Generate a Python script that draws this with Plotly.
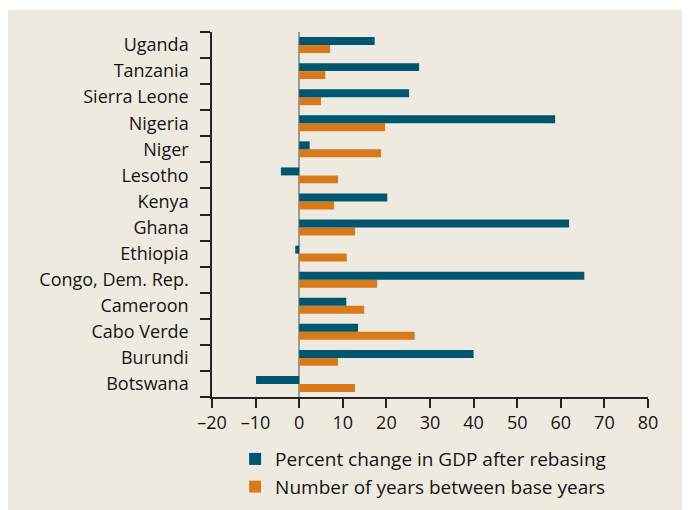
import plotly.graph_objects as go

countries = ["Uganda", "Tanzania", "Sierra Leone", "Nigeria", "Niger", "Lesotho", "Kenya",
             "Ghana", "Ethiopia", "Congo, Dem. Rep.", "Cameroon", "Cabo Verde", "Burundi", "Botswana"]
gdp_change = [17.3, 27.5, 25.2, 58.7, 2.4, -4.2, 20.2, 61.9, -0.9, 65.4, 10.8, 13.5, 40.0, -9.9]
years_between = [7.1, 6.0, 5.0, 19.7, 18.8, 8.9, 8.0, 12.8, 10.9, 17.9, 14.9, 26.5, 8.9, 12.8]

x_ticks = [-20, -10, 0, 10, 20, 30, 40, 50, 60, 70, 80]
x_labels = [str(v).replace("-", "\u2013") for v in x_ticks]

BLUE = "#00566f"
ORANGE = "#d87a1c"
BEIGE = "#eeeae0"
FONT = "Open Sans"

fig = go.Figure()

# orange first so it sits below the blue bar within each group
fig.add_trace(go.Bar(
    y=countries, x=years_between, orientation="h",
    name="Number of years between base years",
    marker=dict(color=ORANGE, line_width=0),
    legendrank=2,
))
fig.add_trace(go.Bar(
    y=countries, x=gdp_change, orientation="h",
    name="Percent change in GDP after rebasing",
    marker=dict(color=BLUE, line_width=0),
    legendrank=1,
))

# thin white strip above the beige panel
fig.add_shape(type="rect", xref="paper", yref="paper",
              x0=-1, x1=2, y0=1.060, y1=1.2,
              fillcolor="white", line_width=0, layer="below")

fig.update_layout(
    width=690, height=510,
    margin=dict(l=204, r=50, t=24, b=119),
    paper_bgcolor=BEIGE,
    plot_bgcolor="rgba(0,0,0,0)",
    font=dict(family=FONT, size=18, color="#151515"),
    barmode="group",
    bargap=0.39,
    bargroupgap=0,
    showlegend=True,
    legend=dict(
        x=0.053, y=-0.118, xanchor="left", yanchor="top",
        orientation="v", bgcolor="rgba(0,0,0,0)",
        font=dict(family=FONT, size=19, color="#151515"),
        tracegroupgap=0,
    ),
)

fig.update_xaxes(
    range=[-20, 80],
    tickvals=x_ticks, ticktext=x_labels,
    showgrid=False,
    zeroline=True, zerolinecolor="#9a9a9a", zerolinewidth=2,
    showline=True, linecolor="#222", linewidth=1.5,
    ticks="outside", ticklen=9, tickwidth=1.5, tickcolor="#222",
    tickfont=dict(size=18),
)

fig.update_yaxes(
    type="category",
    categoryorder="array", categoryarray=countries[::-1],
    range=[-0.5, 13.5],
    showgrid=False,
    showline=True, linecolor="#222", linewidth=1.5,
    ticks="outside", tickson="boundaries", ticklen=10, tickwidth=1.5, tickcolor="#222",
    ticklabelstandoff=18,
    tickfont=dict(size=18),
)

fig.write_html("out.html")
